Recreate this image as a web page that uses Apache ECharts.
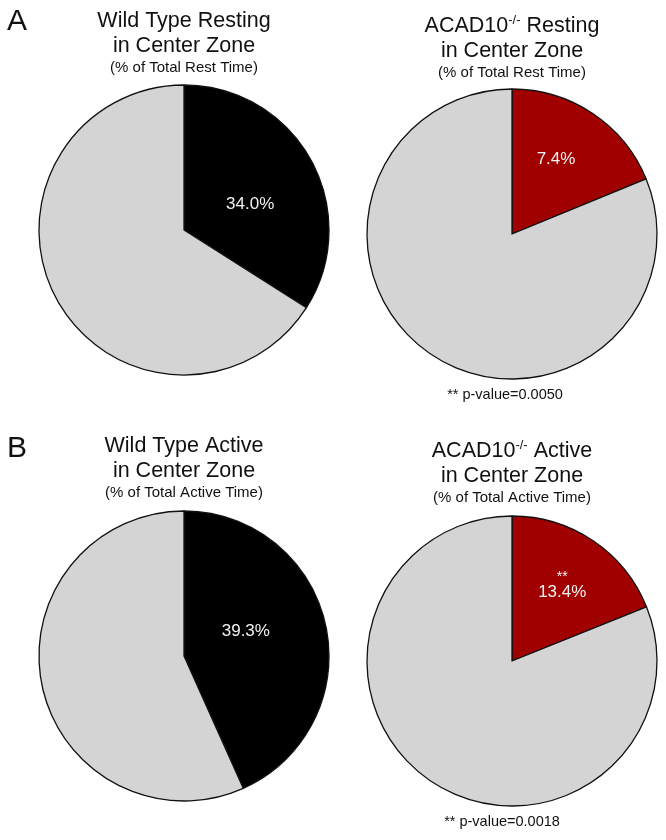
<!DOCTYPE html>
<html>
<head>
<meta charset="utf-8">
<script src="https://cdn.jsdelivr.net/npm/echarts@6/dist/echarts.min.js"></script>
<style>
  html, body { margin: 0; padding: 0; background: #fff; }
  #chart { width: 666px; height: 840px; }
</style>
</head>
<body>
<div id="chart"></div>
<script>
// share of the circle for the coloured wedge, as drawn in the figure
const slicePct = [34.0, 18.8, 43.3, 18.9];
// the text printed inside each wedge
const sliceLabels = ["34.0%", "7.4%", "39.3%", "**\n13.4%"];
const sliceColors = ["#000000", "#a00000", "#000000", "#a00000"];
const titleLines = [
  "Wild Type Resting\nin Center Zone",
  "{t|ACAD10}{s|-/-}{t| Resting}\n{t|in Center Zone}",
  "Wild Type Active\nin Center Zone",
  "{t|ACAD10}{s|-/-}{t| Active}\n{t|in Center Zone}",
];
const subTitles = [
  "(% of Total Rest Time)",
  "(% of Total Rest Time)",
  "(% of Total Active Time)",
  "(% of Total Active Time)",
];
const pValues = ["** p-value=0.0050", "** p-value=0.0018"];
const panelLetters = ["A", "B"];

const font = "'Liberation Sans', Arial, sans-serif";
const grey = "#d4d4d4";

// layout per pie: center x, center y, title top, label offset
const pies = [
  { cx: 184, cy: 230, top: 9, offset: [0, 11] },
  { cx: 512, cy: 234, top: 14, offset: [2, -12] },
  { cx: 184, cy: 656, top: 434, offset: [-12, -9] },
  { cx: 512, cy: 661, top: 439, offset: [8, -12] },
];

let myChart = echarts.init(document.getElementById("chart"));
let titles = [];
let seriesData = [];

pies.forEach((p, i) => {
  titles.push({
    text: titleLines[i],
    subtext: subTitles[i],
    left: p.cx,
    top: p.top,
    padding: 0,
    itemGap: 0,
    textAlign: "center",
    textVerticalAlign: "top",
    textStyle: {
      fontFamily: font,
      fontSize: 21.5,
      fontWeight: "normal",
      color: "#111",
      lineHeight: 25,
      rich: {
        t: { fontFamily: font, fontSize: 21.5, color: "#111", lineHeight: 25 },
        s: { fontFamily: font, fontSize: 13, color: "#111", lineHeight: 14, verticalAlign: "top" },
      },
    },
    subtextStyle: {
      fontFamily: font,
      fontSize: 15,
      color: "#111",
      lineHeight: 18,
    },
  });

  seriesData.push({
    type: "pie",
    center: [p.cx, p.cy],
    radius: 145,
    startAngle: 90,
    clockwise: true,
    animation: false,
    silent: true,
    itemStyle: { borderColor: "#111", borderWidth: 1.3 },
    label: { show: false },
    labelLine: { show: false },
    data: [
      {
        value: slicePct[i],
        itemStyle: { color: sliceColors[i] },
        label: {
          show: true,
          position: "inside",
          offset: p.offset,
          formatter: () => {
            let parts = sliceLabels[i].split("\n");
            return parts.length > 1 ? `{s|${parts[0]}}\n{v|${parts[1]}}` : `{v|${parts[0]}}`;
          },
          rich: {
            v: { fontFamily: font, fontSize: 17, color: "#f2f2f2", lineHeight: 19 },
            s: { fontFamily: font, fontSize: 14, color: "#f2f2f2", lineHeight: 12 },
          },
        },
      },
      {
        value: 100 - slicePct[i],
        itemStyle: { color: grey },
      },
    ],
  });
});

// p-values under the knockout pies
[[505, 387], [502, 814]].forEach((pos, i) => {
  titles.push({
    text: pValues[i],
    left: pos[0],
    top: pos[1],
    padding: 0,
    textAlign: "center",
    textVerticalAlign: "top",
    textStyle: { fontFamily: font, fontSize: 14.5, fontWeight: "normal", color: "#111" },
  });
});

// panel letters
[[7, 7], [7, 434]].forEach((pos, i) => {
  titles.push({
    text: panelLetters[i],
    left: pos[0],
    top: pos[1],
    padding: 0,
    textStyle: { fontFamily: font, fontSize: 30, fontWeight: "normal", color: "#111" },
  });
});

let option = {
  backgroundColor: "#ffffff",
  title: titles,
  series: seriesData,
};
myChart.setOption(option);
</script>
</body>
</html>
